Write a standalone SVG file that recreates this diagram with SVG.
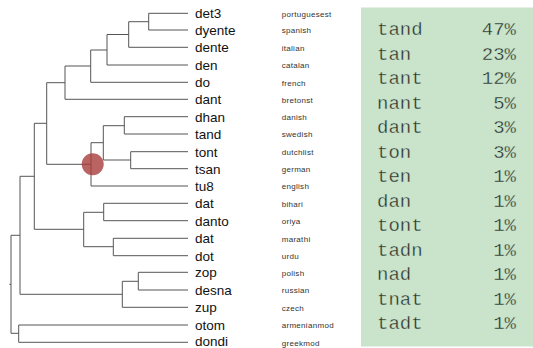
<svg xmlns="http://www.w3.org/2000/svg" width="533" height="348" viewBox="0 0 533 348">
<style>
.e{fill:none;stroke:#555;stroke-width:1}
.n{font-family:"Liberation Sans",Arial,sans-serif;font-size:13.5px;fill:#111}
.l{font-family:"Liberation Sans",Arial,sans-serif;font-size:8px;fill:#333;letter-spacing:0.3px}
.m{font-family:"Liberation Mono","Courier New",monospace;font-size:19px;fill:#2a2a2a;stroke:#c9e4ca;stroke-width:0.35px}
</style>
<rect width="533" height="348" fill="#fff"/>
<g id="panel">
<rect x="361" y="7.5" width="172" height="339" fill="#c9e4ca"/>
</g>
<g id="connectors">
<path class="e" d="M148.7,13.3H188M148.7,30H188M148.7,13.3V30"/>
<path class="e" d="M128.7,21.7H148.7M128.7,21.7V47.3M128.7,47.3H188"/>
<path class="e" d="M107,34.5H128.7M107,34.5V65M107,65H188"/>
<path class="e" d="M90.7,50H107M90.7,50V82.3M90.7,82.3H188"/>
<path class="e" d="M65,66H90.7M65,66V99.3M65,99.3H188"/>
<path class="e" d="M46.7,82.7H65M46.7,82.7V164.3M46.7,164.3H91"/>
<path class="e" d="M91,142.7V186M91,186H188M91,142.7H103.3M103.3,125.7V160"/>
<path class="e" d="M103.3,125.7H124.3M124.3,116.7V134M124.3,116.7H188M124.3,134H188"/>
<path class="e" d="M103.3,160H130.7M130.7,151.7V168.7M130.7,151.7H188M130.7,168.7H188"/>
<path class="e" d="M34.3,123.3H46.7M34.3,123.3V229.3M34.3,229.3H83.7"/>
<path class="e" d="M83.7,212.3V246.7M83.7,212.3H103.7M103.7,203.3V220.7M103.7,203.3H188M103.7,220.7H188"/>
<path class="e" d="M83.7,246.7H113.3M113.3,238.3V255.7M113.3,238.3H188M113.3,255.7H188"/>
<path class="e" d="M20,176.3H34.3M20,176.3V294.3M20,294.3H122.3"/>
<path class="e" d="M122.3,281.3V307.3M122.3,281.3H138.3M122.3,307.3H188M138.3,272.3V290M138.3,272.3H188M138.3,290H188"/>
<path class="e" d="M11,235.3H20M11,235.3V333.3M11,333.3H18.7M18.7,325V342.3M18.7,325H188M18.7,342.3H188"/>
<path class="e" d="M9.3,284.3H11"/>
</g>
<g id="highlight">
<circle cx="92.7" cy="164.3" r="11" fill="#a83c3c" fill-opacity="0.8"/>
</g>
<g id="leaves">
<text class="n" x="195" y="18.3">det3</text>
<text class="n" x="195" y="35">dyente</text>
<text class="n" x="195" y="52.3">dente</text>
<text class="n" x="195" y="70">den</text>
<text class="n" x="195" y="87.3">do</text>
<text class="n" x="195" y="104.3">dant</text>
<text class="n" x="195" y="121.7">dhan</text>
<text class="n" x="195" y="139">tand</text>
<text class="n" x="195" y="156.7">tont</text>
<text class="n" x="195" y="173.7">tsan</text>
<text class="n" x="195" y="191">tu8</text>
<text class="n" x="195" y="208.3">dat</text>
<text class="n" x="195" y="225.7">danto</text>
<text class="n" x="195" y="243.3">dat</text>
<text class="n" x="195" y="260.7">dot</text>
<text class="n" x="195" y="277.3">zop</text>
<text class="n" x="195" y="295">desna</text>
<text class="n" x="195" y="312.3">zup</text>
<text class="n" x="195" y="330">otom</text>
<text class="n" x="195" y="346.3">dondi</text>
</g>
<g id="languages">
<text class="l" x="281.7" y="16.5">portuguesest</text>
<text class="l" x="281.7" y="33.2">spanish</text>
<text class="l" x="281.7" y="50.5">italian</text>
<text class="l" x="281.7" y="68.2">catalan</text>
<text class="l" x="281.7" y="85.5">french</text>
<text class="l" x="281.7" y="102.5">bretonst</text>
<text class="l" x="281.7" y="119.9">danish</text>
<text class="l" x="281.7" y="137.2">swedish</text>
<text class="l" x="281.7" y="154.9">dutchlist</text>
<text class="l" x="281.7" y="171.9">german</text>
<text class="l" x="281.7" y="189.2">english</text>
<text class="l" x="281.7" y="206.5">bihari</text>
<text class="l" x="281.7" y="223.9">oriya</text>
<text class="l" x="281.7" y="241.5">marathi</text>
<text class="l" x="281.7" y="258.9">urdu</text>
<text class="l" x="281.7" y="275.5">polish</text>
<text class="l" x="281.7" y="293.2">russian</text>
<text class="l" x="281.7" y="310.5">czech</text>
<text class="l" x="281.7" y="328.2">armenianmod</text>
<text class="l" x="281.7" y="345.5">greekmod</text>
</g>
<g id="forms">
<text class="m" x="377" y="35">tand</text><text class="m" x="516" y="35" text-anchor="end">47%</text>
<text class="m" x="377" y="59.5">tan</text><text class="m" x="516" y="59.5" text-anchor="end">23%</text>
<text class="m" x="377" y="84">tant</text><text class="m" x="516" y="84" text-anchor="end">12%</text>
<text class="m" x="377" y="108.5">nant</text><text class="m" x="516" y="108.5" text-anchor="end">5%</text>
<text class="m" x="377" y="133">dant</text><text class="m" x="516" y="133" text-anchor="end">3%</text>
<text class="m" x="377" y="157.5">ton</text><text class="m" x="516" y="157.5" text-anchor="end">3%</text>
<text class="m" x="377" y="182">ten</text><text class="m" x="516" y="182" text-anchor="end">1%</text>
<text class="m" x="377" y="206.5">dan</text><text class="m" x="516" y="206.5" text-anchor="end">1%</text>
<text class="m" x="377" y="231">tont</text><text class="m" x="516" y="231" text-anchor="end">1%</text>
<text class="m" x="377" y="255.5">tadn</text><text class="m" x="516" y="255.5" text-anchor="end">1%</text>
<text class="m" x="377" y="280">nad</text><text class="m" x="516" y="280" text-anchor="end">1%</text>
<text class="m" x="377" y="304.5">tnat</text><text class="m" x="516" y="304.5" text-anchor="end">1%</text>
<text class="m" x="377" y="329">tadt</text><text class="m" x="516" y="329" text-anchor="end">1%</text>
</g>
</svg>
